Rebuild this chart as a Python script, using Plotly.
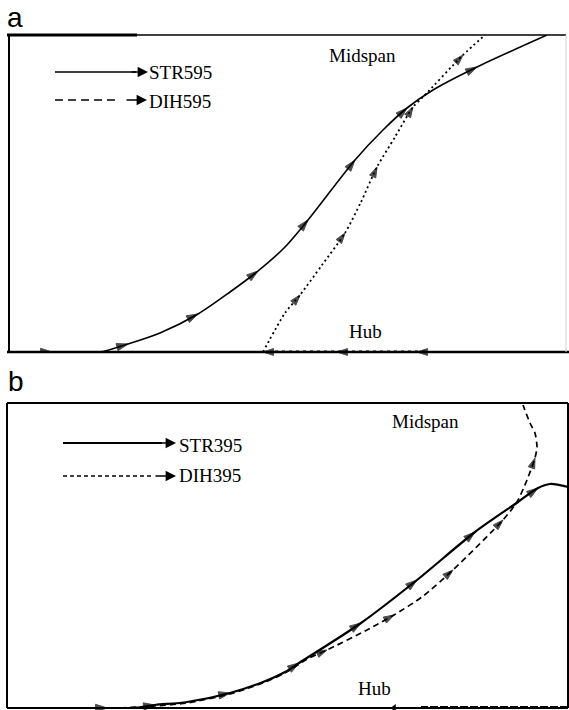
import plotly.graph_objects as go

W, H = 569, 710

# ---------------- data (arbitrary length units, origin at hub/left wall) ----------------
# Panel a
str595_x = [31, 43, 91, 119, 151, 189, 221, 249, 276, 299, 346, 374, 398, 424, 468, 538]
str595_y = [0, 0, 0, 8, 19, 38, 60, 81, 105, 132, 192, 222, 244, 262, 285, 317]
str595_arrow = [0, 1, 0, 1, 0, 1, 0, 1, 0, 1, 1, 0, 1, 0, 1, 0]

dih595_hub_x = [416, 408, 371, 328, 291, 254]
dih595_hub_y = [0, 0, 0, 0, 0, 0]
dih595_hub_arrow = [0, 1, 0, 1, 0, 1]

dih595_x = [254, 276, 291, 313, 336, 352, 368, 386, 404, 414, 454, 476]
dih595_y = [0, 39, 57, 87, 119, 150, 185, 215, 245, 255, 297, 317]
dih595_arrow = [0, 0, 1, 0, 1, 0, 1, 0, 1, 0, 1, 0]

# Panel b
str395_x = [70, 100, 126, 148, 180, 223, 256, 278, 292, 354, 410, 468, 511, 531, 543, 561]
str395_y = [0, 0, 0, 3, 6, 15, 26, 36, 45, 85, 128, 176, 206, 220, 224, 221]
str395_arrow = [1, 1, 0, 1, 0, 1, 0, 0, 1, 1, 1, 1, 0, 1, 0, 0]

dih395_x = [113, 148, 180, 223, 256, 278, 302, 320, 360, 387, 415, 446, 496, 510, 520, 528, 530, 528, 523, 516]
dih395_y = [0, 2, 5, 14, 25, 35, 50, 58, 78, 93, 111, 138, 188, 206, 228, 250, 261, 275, 285, 303]
dih395_arrow = [0, 0, 0, 0, 0, 0, 0, 1, 0, 1, 0, 1, 1, 0, 0, 1, 0, 0, 0, 0]

hub395_x = [561, 414]
hub395_y = [0, 0]
hub395_tick_x = [387]
hub395_tick_y = [0]

labels_a = ["STR595", "DIH595"]
labels_b = ["STR395", "DIH395"]

# ---------------- layout helpers ----------------
def px(x):
    return x / W

def py(y):
    return 1 - y / H

A = dict(l=9, r=566, t=35, b=352)
B = dict(l=7, r=568, t=403, b=708)

fig = go.Figure()

def arrow_sizes(flags, s=12):
    return [s if f else 0 for f in flags]

MK = dict(symbol="arrow", color="black", angleref="previous", line=dict(width=1, color="black"))

# Panel a traces
fig.add_trace(go.Scatter(
    x=str595_x, y=str595_y, mode="lines+markers", name=labels_a[0],
    line=dict(color="black", width=1.6, shape="spline", smoothing=0.8),
    marker=dict(size=arrow_sizes(str595_arrow), **MK),
    xaxis="x", yaxis="y", showlegend=False))
fig.add_trace(go.Scatter(
    x=dih595_x, y=dih595_y, mode="lines+markers", name=labels_a[1],
    line=dict(color="black", width=1.8, dash="2px,3px", shape="spline", smoothing=0.7),
    marker=dict(size=arrow_sizes(dih595_arrow, 11), **MK),
    xaxis="x", yaxis="y", showlegend=False))
fig.add_trace(go.Scatter(
    x=dih595_hub_x, y=dih595_hub_y, mode="lines+markers", name=labels_a[1] + " hub",
    line=dict(color="black", width=3, dash="3px,4px"),
    marker=dict(size=arrow_sizes(dih595_hub_arrow, 11), **MK),
    xaxis="x", yaxis="y", showlegend=False, cliponaxis=False))

# Panel b traces
fig.add_trace(go.Scatter(
    x=str395_x, y=str395_y, mode="lines+markers", name=labels_b[0],
    line=dict(color="black", width=2.2, shape="spline", smoothing=0.8),
    marker=dict(size=arrow_sizes(str395_arrow), **MK),
    xaxis="x2", yaxis="y2", showlegend=False, cliponaxis=False))
fig.add_trace(go.Scatter(
    x=dih395_x, y=dih395_y, mode="lines+markers", name=labels_b[1],
    line=dict(color="black", width=1.7, dash="6px,4px", shape="spline", smoothing=0.6),
    marker=dict(size=arrow_sizes(dih395_arrow, 11), **MK),
    xaxis="x2", yaxis="y2", showlegend=False))
fig.add_trace(go.Scatter(
    x=hub395_x, y=hub395_y, mode="lines", name=labels_b[1] + " hub",
    line=dict(color="black", width=4, dash="8px,2px"),
    xaxis="x2", yaxis="y2", showlegend=False, cliponaxis=False))
fig.add_trace(go.Scatter(
    x=hub395_tick_x, y=hub395_tick_y, mode="markers", name=labels_b[1] + " mark",
    marker=dict(symbol="triangle-left", size=7, color="black"),
    xaxis="x2", yaxis="y2", showlegend=False, cliponaxis=False))

ax_common = dict(visible=False, showgrid=False, zeroline=False, fixedrange=True)
fig.update_layout(
    width=W, height=H, margin=dict(l=0, r=0, t=0, b=0),
    paper_bgcolor="white", plot_bgcolor="white",
    xaxis=dict(domain=[px(A["l"]), px(A["r"])], range=[0, A["r"] - A["l"]], anchor="y", **ax_common),
    yaxis=dict(domain=[py(A["b"]), py(A["t"])], range=[0, A["b"] - A["t"]], anchor="x", **ax_common),
    xaxis2=dict(domain=[px(B["l"]), px(B["r"])], range=[0, B["r"] - B["l"]], anchor="y2", **ax_common),
    yaxis2=dict(domain=[py(B["b"]), py(B["t"])], range=[0, B["b"] - B["t"]], anchor="x2", **ax_common),
    showlegend=False,
)

shapes = []
def pline(x0, y0, x1, y1, width=1.5, color="black", dash="solid", layer="below"):
    shapes.append(dict(type="line", xref="paper", yref="paper",
                       x0=px(x0), y0=py(y0), x1=px(x1), y1=py(y1),
                       line=dict(color=color, width=width, dash=dash), layer=layer))

# frame a
pline(9, 35, 566, 35, 1.5)
pline(7, 35, 137, 35, 3)
pline(9, 35, 9, 352, 2)
pline(7, 352, 569, 352, 2.5)
pline(566, 35, 566, 352, 1, color="#d0d0d0")
# frame b
pline(7, 403, 568, 403, 2)
pline(7, 403, 7, 708, 2)
pline(7, 708, 568, 708, 2)
pline(568, 403, 568, 708, 2)

# legend lines
pline(55, 72, 136, 72, 1.5, layer="above")
pline(55, 100, 120, 100, 1.5, dash="8px,5px", layer="above")
pline(63, 443, 162, 443, 1.8, layer="above")
pline(63, 476, 152, 476, 1.5, dash="4px,3px", layer="above")

fig.update_layout(shapes=shapes)

anns = []
SERIF = "Liberation Serif, Times New Roman, serif"
def text(t, x, y, size=19, family=SERIF, xanchor="left", yanchor="middle"):
    anns.append(dict(text=t, x=px(x), y=py(y), xref="paper", yref="paper",
                     xanchor=xanchor, yanchor=yanchor, showarrow=False,
                     font=dict(family=family, size=size, color="black")))

def head(x, y, length=14):
    anns.append(dict(text="", x=px(x), y=py(y), xref="paper", yref="paper",
                     ax=-length, ay=0, showarrow=True, arrowhead=2, arrowsize=1.6,
                     arrowwidth=1.3, arrowcolor="black", standoff=0))

text("a", 5, 0, size=28, family="Liberation Sans, Arial, sans-serif", yanchor="top")
text("b", 6, 382, size=28, family="Liberation Sans, Arial, sans-serif")
text(labels_a[0], 147, 73)
text(labels_a[1], 147, 101)
text("Midspan", 363, 55, xanchor="center")
text("Hub", 365, 331, xanchor="center")
text(labels_b[0], 177, 445)
text(labels_b[1], 177, 475)
text("Midspan", 425, 421, xanchor="center")
text("Hub", 374, 688, xanchor="center")

head(148, 72, 18)
head(147, 100, 22)
head(176, 443, 18)
head(176, 476, 22)

fig.update_layout(annotations=anns)

fig.write_html("out.html")
